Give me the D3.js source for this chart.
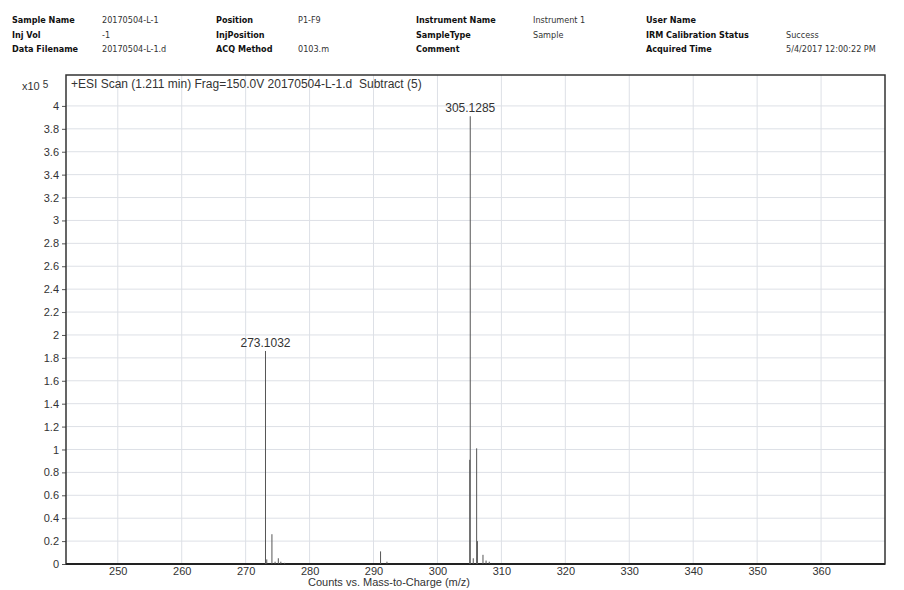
<!DOCTYPE html>
<html lang="en">
<head>
    <meta charset="UTF-8">
    <title>ESI Scan</title>
    <style>
        body { margin: 0; background: #fff; }
        .hdr-key { font-family: "DejaVu Sans Condensed", "DejaVu Sans", sans-serif; font-weight: bold; font-size: 9px; fill: #111; }
        .hdr-val { font-family: "DejaVu Sans Condensed", "DejaVu Sans", sans-serif; font-size: 9px; fill: #333; }
        .tick text { font-family: "Liberation Sans", Arial, sans-serif; font-size: 11px; fill: #333; }
        .grid line { stroke: #dde0e6; stroke-width: 1; }
        .peak { stroke: #555; stroke-width: 1; }
        .lbl { font-family: "Liberation Sans", Arial, sans-serif; font-size: 12px; fill: #333; }
    </style>
</head>
<body>
    <svg width="904" height="590"></svg>
    <script src="https://cdn.jsdelivr.net/npm/d3@7"></script>
    <script>
        // header info
        const hdrKeys = [
            ["Sample Name", "Inj Vol", "Data Filename"],
            ["Position", "InjPosition", "ACQ Method"],
            ["Instrument Name", "SampleType", "Comment"],
            ["User Name", "IRM Calibration Status", "Acquired Time"]
        ];
        const hdrVals = [
            ["20170504-L-1", "-1", "20170504-L-1.d"],
            ["P1-F9", "", "0103.m"],
            ["Instrument 1", "Sample", ""],
            ["", "Success", "5/4/2017 12:00:22 PM"]
        ];
        const keyX = [12, 216, 416, 646];
        const valX = [102, 298, 533, 786];

        // spectrum (m/z, counts x10^5)
        const mz =     [273.1032, 273.30, 274.11, 274.60, 275.11, 275.50, 276.10, 291.10, 292.10, 305.05, 305.1285, 305.60, 306.13, 306.25, 307.12, 307.60, 308.10];
        const counts = [1.86,     0.04,   0.26,   0.02,   0.05,   0.02,   0.01,   0.11,   0.02,   0.91,   3.91,     0.05,   1.01,   0.20,   0.08,   0.03,   0.02];
        const labelled = [273.1032, 305.1285];

        const xTicks = [250, 260, 270, 280, 290, 300, 310, 320, 330, 340, 350, 360];
        const yTicks = d3.range(0, 4.01, 0.2).map(v => +v.toFixed(1));

        const svg = d3.select("svg");
        const pLeft = 66, pRight = 885, pTop = 75, pBottom = 564;

        const x = d3.scaleLinear().domain([241.9, 370]).range([pLeft, pRight]);
        const y = d3.scaleLinear().domain([0, 4.27]).range([pBottom, pTop]);

        // header
        hdrKeys.forEach((col, i) => {
            col.forEach((k, j) => {
                svg.append("text").attr("class", "hdr-key")
                    .attr("x", keyX[i]).attr("y", 23 + j * 14.5).text(k);
                svg.append("text").attr("class", "hdr-val")
                    .attr("x", valX[i]).attr("y", 23 + j * 14.5).text(hdrVals[i][j]);
            });
        });

        // grid
        svg.append("g").attr("class", "grid")
            .selectAll("line").data(xTicks).enter().append("line")
            .attr("x1", d => x(d)).attr("x2", d => x(d))
            .attr("y1", pTop).attr("y2", pBottom);
        svg.append("g").attr("class", "grid")
            .selectAll("line").data(yTicks.filter(d => d > 0)).enter().append("line")
            .attr("x1", pLeft).attr("x2", pRight)
            .attr("y1", d => y(d)).attr("y2", d => y(d));

        // axes
        const xAxis = svg.append("g")
            .attr("transform", `translate(0,${pBottom})`)
            .call(d3.axisBottom(x).tickValues(xTicks).tickSize(0).tickPadding(3));
        xAxis.select(".domain").remove();

        const yAxis = svg.append("g")
            .attr("transform", `translate(${pLeft},0)`)
            .call(d3.axisLeft(y).tickValues(yTicks).tickSize(4).tickPadding(3).tickFormat(d => d3.format("~g")(d)));
        yAxis.select(".domain").remove();
        yAxis.selectAll(".tick line").attr("stroke", "#555");

        // frame
        svg.append("rect")
            .attr("x", pLeft).attr("y", pTop)
            .attr("width", pRight - pLeft).attr("height", pBottom - pTop)
            .attr("fill", "none").attr("stroke", "#333").attr("stroke-width", 1.5);
        svg.append("line")
            .attr("x1", pLeft).attr("x2", pRight).attr("y1", pBottom).attr("y2", pBottom)
            .attr("stroke", "#222").attr("stroke-width", 2);

        // peaks
        svg.append("g").selectAll("line").data(mz).enter().append("line")
            .attr("class", "peak")
            .attr("x1", d => x(d)).attr("x2", d => x(d))
            .attr("y1", pBottom).attr("y2", (d, i) => y(counts[i]));

        svg.append("g").selectAll("text").data(labelled).enter().append("text")
            .attr("class", "lbl")
            .attr("text-anchor", "middle")
            .attr("x", d => x(d))
            .attr("y", d => y(counts[mz.indexOf(d)]) - 4)
            .text(d => d.toFixed(4));

        // title and units
        svg.append("text").attr("class", "lbl")
            .attr("x", 71).attr("y", 88)
            .style("white-space", "pre")
            .text("+ESI Scan (1.211 min) Frag=150.0V 20170504-L-1.d  Subtract (5)");
        const mult = svg.append("text").attr("class", "lbl").attr("x", 22).attr("y", 90).style("font-size", "11px");
        mult.append("tspan").text("x10 ");
        mult.append("tspan").attr("dy", -2).style("font-size", "10px").text("5");

        svg.append("text").attr("class", "lbl")
            .attr("text-anchor", "middle")
            .attr("x", 389).attr("y", 586)
            .style("font-size", "11px")
            .text("Counts vs. Mass-to-Charge (m/z)");
    </script>
</body>
</html>
